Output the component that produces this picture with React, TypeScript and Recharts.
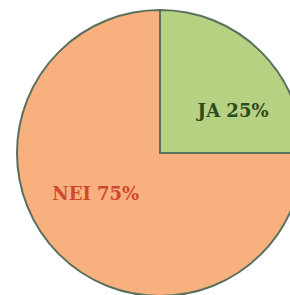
import { PieChart, Pie, Cell } from 'recharts'

document.body.style.margin = '0'

const names = ['JA', 'NEI']
const values = [25, 75]
const fills = ['#b5d181', '#f8b07e']
const textColors = ['#2d4a1e', '#d2472e']
// label placement in polar terms (degrees, fraction of radius), as in the original layout
const labelAngles = [30, 212]
const labelRadii = [0.59, 0.53]

const data = names.map((name, i) => ({ name, value: values[i] }))

const RADIAN = Math.PI / 180

function renderLabel(props: any) {
  const { cx, cy, outerRadius, index, value, name } = props
  const r = outerRadius * labelRadii[index]
  const a = labelAngles[index]
  const x = cx + r * Math.cos(-a * RADIAN)
  const y = cy + r * Math.sin(-a * RADIAN)
  return (
    <text
      x={x}
      y={y}
      fill={textColors[index]}
      textAnchor="middle"
      dominantBaseline="central"
      style={{ fontFamily: '"DejaVu Serif", serif', fontWeight: 700, fontSize: 18 }}
    >
      {`${name} ${value}%`}
    </text>
  )
}

export default function App() {
  return (
    <div style={{ width: 290, height: 295, background: '#ffffff' }}>
      <PieChart width={290} height={295} margin={{ top: 0, right: 0, bottom: 0, left: 0 }}>
        <Pie
          data={data}
          dataKey="value"
          nameKey="name"
          cx={160}
          cy={153}
          outerRadius={143}
          startAngle={90}
          endAngle={-270}
          stroke="#5a705c"
          strokeWidth={2}
          label={renderLabel}
          labelLine={false}
          isAnimationActive={false}
        >
          {data.map((d, i) => (
            <Cell key={d.name} fill={fills[i]} />
          ))}
        </Pie>
      </PieChart>
    </div>
  )
}
